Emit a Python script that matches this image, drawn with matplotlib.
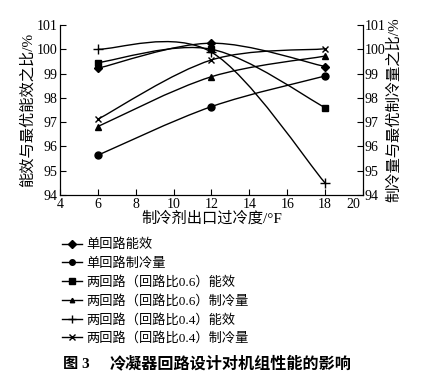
import numpy as np
import matplotlib.pyplot as plt
import matplotlib.transforms as mtransforms
from matplotlib.path import Path
from matplotlib.patches import PathPatch
from matplotlib.lines import Line2D

plt.rcParams["font.family"] = ["Liberation Serif", "Noto Sans CJK SC"]
plt.rcParams["font.size"] = 9

subcool = [6, 12, 18]
single_eer = [99.22, 100.25, 99.29]
single_cap = [95.64, 97.64, 98.90]
two06_eer = [99.45, 100.0, 97.60]
two06_cap = [96.82, 98.87, 99.72]
two04_eer = [100.0, 99.88, 94.50]
two04_cap = [97.12, 99.56, 100.02]

series = [
    ("单回路能效", single_eer, "D", 4.5),
    ("单回路制冷量", single_cap, "o", 5),
    ("两回路（回路比0.6）能效", two06_eer, "s", 5),
    ("两回路（回路比0.6）制冷量", two06_cap, "^", 4),
    ("两回路（回路比0.4）能效", two04_eer, "+", 7),
    ("两回路（回路比0.4）制冷量", two04_cap, "x", 5),
]


def smooth_path(xs, ys):
    # Catmull-Rom style bezier through the points (like a smoothed line)
    pts = np.column_stack([xs, ys]).astype(float)
    verts = [pts[0]]
    codes = [Path.MOVETO]
    n = len(pts)
    for i in range(n - 1):
        p0 = pts[max(i - 1, 0)]
        p1 = pts[i]
        p2 = pts[i + 1]
        p3 = pts[min(i + 2, n - 1)]
        c1 = p1 + (p2 - p0) / 6
        c2 = p2 - (p3 - p1) / 6
        verts += [c1, c2, p2]
        codes += [Path.CURVE4] * 3
    return Path(verts, codes)


fig = plt.figure(figsize=(4.21, 3.84), dpi=100)
ax = fig.add_axes([0.1425, 0.492, 0.7195, 0.443])

handles = []
for label, vals, mk, ms in series:
    ax.add_patch(PathPatch(smooth_path(subcool, vals), fill=False, edgecolor="black", lw=1.0))
    ax.plot(subcool, vals, linestyle="none", marker=mk, ms=ms, color="black", mew=1.0)
    handles.append(Line2D([], [], color="black", lw=1.0, marker=mk, ms=ms * 0.8, mew=1.0))

ax.set_xlim(4, 20)
ax.set_ylim(94, 101)
ax.set_xticks(np.arange(4, 21, 2))
ax.set_yticks(np.arange(94, 102, 1))
ax.tick_params(direction="in", length=4, width=0.8, labelsize=10, pad=2)
ax.spines["top"].set_visible(False)
ax.set_xlabel("制冷剂出口过冷度/°F", fontsize=11, labelpad=0)
ax.set_ylabel("能效与最优能效之比/%", fontsize=11, labelpad=1)

# nudge the last x tick label left so it clears the right-axis "94"
last = ax.get_xticklabels()[-1]
last.set_transform(last.get_transform() +
                   mtransforms.ScaledTranslation(-7 / 72, 0, fig.dpi_scale_trans))

ax2 = ax.twinx()
ax2.set_ylim(94, 101)
ax2.set_yticks(np.arange(94, 102, 1))
ax2.tick_params(direction="in", length=4, width=0.8, labelsize=10, pad=1)
ax2.spines["top"].set_visible(False)
ax2.set_ylabel("制冷量与最优制冷量之比/%", fontsize=11, labelpad=1)

fig.legend(handles, [s[0] for s in series], loc="upper left",
           bbox_to_anchor=(0.147, 0.378), frameon=False, fontsize=9.5,
           handlelength=1.5, handletextpad=0.35, labelspacing=0.45,
           borderpad=0, borderaxespad=0)

fig.text(0.15, 0.052, "图 3", fontsize=11, fontweight="bold", va="center")
fig.text(0.26, 0.052, "冷凝器回路设计对机组性能的影响", fontsize=11.6,
         fontweight="bold", va="center")

fig.savefig("out.png", dpi=100)
